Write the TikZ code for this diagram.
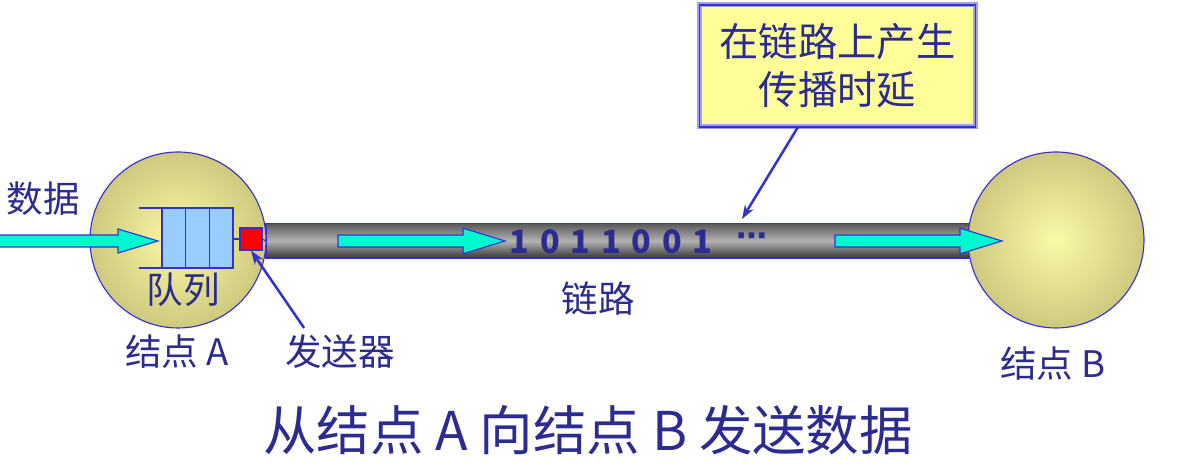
\documentclass[tikz,border=0pt]{standalone}
\usepackage{fontspec}
\setmainfont{Noto Sans CJK SC}
\newfontfamily\symfont{DejaVu Sans}
\usepackage{tikz}
\usetikzlibrary{arrows.meta,positioning}
\definecolor{Ink}{HTML}{2B2B90}
\definecolor{Edge}{HTML}{3333CC}
\definecolor{Lav}{HTML}{A0A0F0}
\definecolor{Flow}{HTML}{00F8D0}
\definecolor{Cell}{HTML}{99CCFF}
\definecolor{Note}{HTML}{FFFF99}
\definecolor{BallIn}{HTML}{FAFAA6}
\definecolor{BallOut}{HTML}{CEC97E}

\begin{document}
\begin{tikzpicture}[
    label/.style={text=Ink, font=\fontsize{26pt}{30pt}\selectfont, inner sep=2pt},
    ball/.style={circle, draw=Edge, thick, minimum size=4.4cm, inner color=BallIn, outer color=BallOut},
    cell/.style={draw=Edge, thick, fill=Cell, minimum width=0.59cm, minimum height=1.475cm, inner sep=0pt},
    flow/.style={draw=Edge, fill=Flow, line width=0.8pt},
    tube/.style={draw=Edge, thick, minimum width=18.35cm, minimum height=0.875cm, inner sep=0pt,
      top color=black!65, bottom color=black!80, middle color=black!30},
    pointer/.style={-{Stealth[length=10pt,width=7pt]}, Edge, line width=1.8pt}
  ]
    \useasboundingbox (0,0) rectangle (30.075,11.675);

    % link first, so node B covers its end
    \node[tube] (link) at (15.825,5.65) {};
    \node[ball] (nodeA) at (4.45,5.675) {};
    \node[ball] (nodeB) at (26.4,5.675) {};

    % queue and sender inside node A
    \node[cell] (q1) at (4.345,5.72) {};
    \node[cell] (q2) at (4.94,5.72) {};
    \node[cell] (q3) at (5.53,5.72) {};
    \draw[Edge, line width=1.6pt] (q3.north east) -- (q1.north west) -- ++(-0.55,0);
    \draw[Edge, line width=1.6pt] (q3.south east) -- (q1.south west) -- ++(-0.55,0);
    \node[draw=Edge, thick, fill=red, minimum size=0.55cm, inner sep=0pt] (sender) at (6.275,5.7) {};
    \draw[Edge, thick] (q3.east |- sender.west) -- (sender.west);
    \draw[Edge, thick] (sender.east) -- (link.west);

    % data flow arrows
    \draw[flow] (-0.2,5.5) -- (2.95,5.5) -- (2.95,5.35) -- (3.95,5.65) -- (2.95,5.95) -- (2.95,5.8) -- (-0.2,5.8) -- cycle;
    \draw[flow] (8.45,5.5) -- (11.575,5.5) -- (11.575,5.33) -- (12.625,5.65) -- (11.575,5.97) -- (11.575,5.8) -- (8.45,5.8) -- cycle;
    \draw[flow] (20.875,5.5) -- (24.0,5.5) -- (24.0,5.33) -- (25.05,5.65) -- (24.0,5.97) -- (24.0,5.8) -- (20.875,5.8) -- cycle;

    \node[text=Ink, font=\fontsize{23pt}{24pt}\selectfont\bfseries] (bits) at (15.275,5.62) {1\,\,0\,\,1\,\,1\,\,0\,\,0\,\,1};
    \node[text=Ink, font=\symfont\bfseries\fontsize{22pt}{24pt}\selectfont] (dots) at (18.8,5.68) {⋯};

    % labels
    \node[label] (data) at (1.075,6.7) {数据};
    \node[label] (queue) at (4.575,4.425) {队列};
    \node[label] (labelA) at (4.425,2.875) {结点 A};
    \node[label] (sendlabel) at (8.5,2.875) {发送器};
    \node[label] (linklabel) at (14.95,4.2) {链路};
    \node[label] (labelB) at (26.325,2.575) {结点 B};
    \node[label, font=\fontsize{38pt}{42pt}\selectfont] (title) at (14.7,0.925) {从结点 A 向结点 B 发送数据};

    % callout
    \node[draw=Lav, double=Edge, line width=1.2pt, double distance=1.2pt, fill=Note,
      minimum width=6.9cm, minimum height=3.05cm, align=center, text=Ink,
      font=\fontsize{28pt}{34pt}\selectfont] (delay) at (20.94,10.03) {在链路上产生\\传播时延};
    \coordinate (hit) at (18.55,6.2);

    \draw[pointer] ([xshift=-1cm]delay.south) -- (hit);
    \draw[pointer] ([xshift=0.55cm,yshift=0.1cm]sendlabel.north west) -- (sender.south);
  \end{tikzpicture}
\end{document}
